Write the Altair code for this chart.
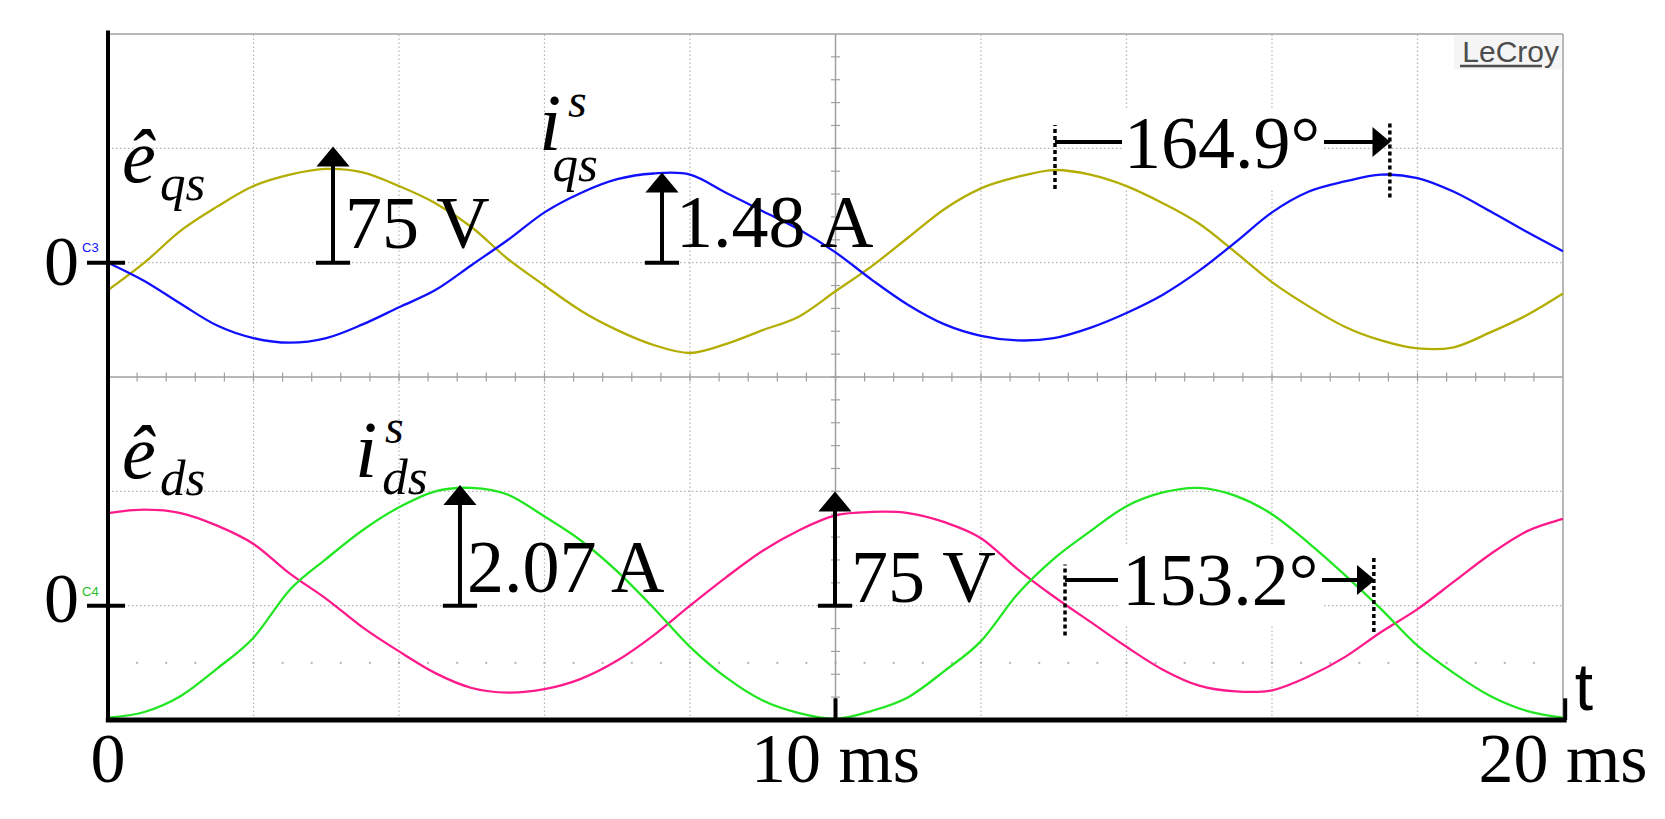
import altair as alt
import pandas as pd

# ---------------- data (screen divisions relative to each channel's zero) ----
T_MS = [0.0, 0.5, 1.0, 1.5, 2.0, 2.5, 3.0, 3.5, 4.0, 4.5, 5.0, 5.5, 6.0, 6.5,
        7.0, 7.5, 8.0, 8.5, 9.0, 9.5, 10.0, 10.5, 11.0, 11.5, 12.0, 12.5,
        13.0, 13.5, 14.0, 14.5, 15.0, 15.5, 16.0, 16.5, 17.0, 17.5, 18.0,
        18.5, 19.0, 19.5, 20.0]

E_QS = [-0.24, 0.00, 0.28, 0.49, 0.67, 0.77, 0.82, 0.79, 0.67, 0.52, 0.31,
        0.03, -0.20, -0.42, -0.59, -0.72, -0.79, -0.71, -0.59, -0.47, -0.25,
        -0.03, 0.22, 0.47, 0.65, 0.75, 0.81, 0.77, 0.67, 0.52, 0.34, 0.09,
        -0.17, -0.38, -0.56, -0.68, -0.75, -0.74, -0.61, -0.46, -0.27]

I_QS = [0.00, -0.16, -0.36, -0.55, -0.66, -0.70, -0.66, -0.54, -0.39, -0.24,
        -0.02, 0.20, 0.44, 0.61, 0.73, 0.78, 0.77, 0.61, 0.45, 0.29, 0.09,
        -0.15, -0.37, -0.54, -0.64, -0.68, -0.66, -0.57, -0.44, -0.28, -0.07,
        0.18, 0.44, 0.62, 0.71, 0.77, 0.74, 0.62, 0.45, 0.27, 0.10]

E_DS = [0.81, 0.84, 0.81, 0.70, 0.54, 0.28, 0.06, -0.19, -0.40, -0.59, -0.72,
        -0.76, -0.73, -0.64, -0.48, -0.26, 0.00, 0.25, 0.48, 0.66, 0.79, 0.82,
        0.81, 0.73, 0.59, 0.32, 0.08, -0.14, -0.36, -0.56, -0.70, -0.75,
        -0.74, -0.62, -0.45, -0.23, -0.03, 0.21, 0.45, 0.65, 0.76]

I_DS = [-0.98, -0.93, -0.79, -0.55, -0.28, 0.14, 0.41, 0.66, 0.86, 1.00, 1.03,
        0.97, 0.78, 0.57, 0.30, -0.02, -0.36, -0.63, -0.83, -0.94, -0.99,
        -0.92, -0.80, -0.57, -0.31, 0.10, 0.41, 0.65, 0.87, 0.99, 1.03, 0.96,
        0.80, 0.55, 0.27, -0.03, -0.35, -0.59, -0.79, -0.92, -0.98]

TRACE_NAMES = ["e_qs", "i_qs", "e_ds", "i_ds"]
TRACE_COLORS = ["#b3ad00", "#1010ff", "#ff1a8c", "#22e622"]
TRACE_ZERO = [4, 4, 1, 1]          # channel zero level (division index)

X_LABELS = ["0", "10 ms", "20 ms"]
X_LABEL_T = [0, 10, 20]

ARROW_LABELS = ["75 V", "1.48 A", "2.07 A", "75 V"]
PHASE_LABELS = ["164.9°", "153.2°"]

# ---------------- table building ----------------
rows = []
for name, zero, vals in zip(TRACE_NAMES, TRACE_ZERO, [E_QS, I_QS, E_DS, I_DS]):
    for t, v in zip(T_MS, vals):
        rows.append({"t": t, "v": v + zero, "trace": name})
traces = pd.DataFrame(rows)

xs = alt.Scale(domain=[0, 20], nice=False, zero=False)
ys = alt.Scale(domain=[0, 6], nice=False, zero=False)


def X(f="t"):
    return alt.X(f"{f}:Q", scale=xs, axis=None)


def Y(f="v"):
    return alt.Y(f"{f}:Q", scale=ys, axis=None)


def segs(rows_, color, width, dash=None, opacity=1.0):
    df = pd.DataFrame(rows_, columns=["t", "t2", "v", "v2"])
    kw = dict(color=color, strokeWidth=width, opacity=opacity)
    if dash:
        kw["strokeDash"] = dash
    return alt.Chart(df).mark_rule(**kw).encode(
        x=X("t"), x2=alt.X2("t2"), y=Y("v"), y2=alt.Y2("v2"))


def texts(rows_, size, font, style="normal", color="black", align="left",
          baseline="alphabetic", weight="normal"):
    df = pd.DataFrame(rows_, columns=["t", "v", "label"])
    return alt.Chart(df).mark_text(
        fontSize=size, font=font, fontStyle=style, color=color, align=align,
        baseline=baseline, fontWeight=weight).encode(
        x=X("t"), y=Y("v"), text="label:N")


def ticks(ts, vs, orient, size, thick, color):
    df = pd.DataFrame({"t": ts, "v": vs})
    return alt.Chart(df).mark_tick(orient=orient, size=size, thickness=thick,
                                   color=color, opacity=1).encode(x=X(), y=Y())


def heads(ts, vs, path, size):
    df = pd.DataFrame({"t": ts, "v": vs})
    return alt.Chart(df).mark_point(shape=path, size=size, filled=True,
                                    color="black", opacity=1,
                                    strokeWidth=0).encode(x=X(), y=Y())


GRID = "#b4b4b4"
SOLID = "#a0a0a0"
SERIF = "Liberation Serif"
SANS = "Liberation Sans"

layers = []

# dotted graticule
layers.append(segs([[t, t, 0, 6] for t in [2, 4, 6, 8, 12, 14, 16, 18]],
                   GRID, 1.2, dash=[1.5, 2.5]))
layers.append(segs([[0, 20, v, v] for v in [1, 2, 4, 5]], GRID, 1.2,
                   dash=[1.5, 2.5]))
layers.append(ticks([0.4 * i for i in range(1, 50)], [0.5] * 49, "vertical",
                    2, 2, GRID))

# white text backgrounds of phase labels
bx = pd.DataFrame({"t": [13.938, 13.91], "t2": [16.701, 16.687],
                   "v": [4.636, 0.831], "v2": [5.335, 1.531]})
layers.append(alt.Chart(bx).mark_rect(color="white").encode(
    x=X("t"), x2=alt.X2("t2"), y=Y("v"), y2=alt.Y2("v2")))

# LeCroy box
lb = pd.DataFrame({"t": [18.5], "t2": [19.98], "v": [5.69], "v2": [5.99]})
layers.append(alt.Chart(lb).mark_rect(color="#f5f5f5").encode(
    x=X("t"), x2=alt.X2("t2"), y=Y("v"), y2=alt.Y2("v2")))

# solid gray lines: divider, center, border
layers.append(segs([[0, 20, 3, 3], [10, 10, 0, 6], [0, 20, 6, 6],
                    [20, 20, 0, 6]], SOLID, 1.5))
layers.append(ticks([0.4 * i for i in range(1, 50)], [3] * 49, "vertical",
                    9, 1.2, SOLID))
layers.append(ticks([10] * 29, [0.2 * i for i in range(1, 30)], "horizontal",
                    9, 1.2, SOLID))

# traces
layers.append(alt.Chart(traces).mark_line(interpolate="cardinal",
                                          strokeWidth=2.3).encode(
    x=X(), y=Y(),
    color=alt.Color("trace:N", scale=alt.Scale(domain=TRACE_NAMES,
                                               range=TRACE_COLORS),
                    legend=None)))

# black axes
layers.append(segs([[0, 0, 0, 6.03]], "black", 4))
layers.append(segs([[-0.03, 20.05, 0, 0]], "black", 5))
layers.append(segs([[10, 10, 0, 0.19], [20.03, 20.03, 0, 0.19]], "black", 4))
layers.append(segs([[-0.289, 0.234, 4, 4], [-0.289, 0.234, 1, 1]], "black", 4))

# vertical amplitude arrows
VA_T = [3.093, 7.615, 4.838, 9.993]
VA_BASE = [4, 4, 1, 1]
VA_HB = [4.846, 4.618, 1.898, 1.837]
VA_HM = [4.929, 4.701, 1.968, 1.911]
layers.append(segs([[t, t, b, h] for t, b, h in zip(VA_T, VA_BASE, VA_HB)],
                   "black", 4))
layers.append(segs([[t - 0.235, t + 0.235, b, b] for t, b in zip(VA_T, VA_BASE)],
                   "black", 4))
layers.append(heads(VA_T, VA_HM, "M0,-0.6L1,0.6L-1,0.6Z", 1100))

# phase arrows
PH_V = [5.056, 1.224]
layers.append(segs([[13.017, 13.938, PH_V[0], PH_V[0]],
                    [13.155, 13.883, PH_V[1], PH_V[1]],
                    [16.715, 17.41, PH_V[0], PH_V[0]],
                    [16.687, 17.19, PH_V[1], PH_V[1]]], "black", 4))
layers.append(segs([[13.017, 13.017, 4.644, 5.204],
                    [17.62, 17.62, 4.57, 5.23],
                    [13.155, 13.155, 0.74, 1.36],
                    [17.40, 17.40, 0.77, 1.43]], "black", 3.5, dash=[4, 3]))
layers.append(heads([17.505, 17.292], PH_V, "M0.6,0L-0.6,-1L-0.6,1Z", 900))

# texts
layers.append(texts([[t, -0.542, s] for t, s in zip(X_LABEL_T, X_LABELS)],
                    70, SERIF, align="center"))
layers.append(texts([[-0.40, 3.805, "0"], [-0.40, 0.857, "0"]], 70, SERIF,
                    align="right"))
layers.append(texts([[20.16, 0.087, "t"]], 66, SANS))
layers.append(texts([[3.258, 4.128, ARROW_LABELS[0]],
                     [7.808, 4.137, ARROW_LABELS[1]],
                     [4.935, 1.12, ARROW_LABELS[2]],
                     [10.213, 1.032, ARROW_LABELS[3]],
                     [13.966, 4.828, PHASE_LABELS[0]],
                     [13.94, 1.006, PHASE_LABELS[1]]], 74, SERIF))
layers.append(texts([[0.192, 4.706, "ê"], [0.192, 2.117, "ê"]], 76, SERIF,
                    style="italic"))
layers.append(texts([[5.924, 4.985, "i"], [3.395, 2.125, "i"]], 80, SERIF,
                    style="italic"))
layers.append(texts([[0.715, 4.548, "qs"], [0.715, 1.968, "ds"],
                     [6.11, 4.714, "qs"], [3.77, 1.977, "ds"]], 51, SERIF,
                    style="italic"))
layers.append(texts([[6.323, 5.274, "s"], [3.808, 2.423, "s"]], 48, SERIF,
                    style="italic"))
layers.append(texts([[-0.357, 4.093, "C3"]], 13, SANS, color="#1010ff"))
layers.append(texts([[-0.357, 1.085, "C4"]], 13, SANS, color="#22c022"))
layers.append(texts([[19.945, 5.755, "LeCroy"]], 30, SANS, color="#4d4d4d",
                    align="right"))
layers.append(segs([[18.584, 19.711, 5.72, 5.72]], "#4d4d4d", 2.5))

chart = alt.layer(*layers).properties(
    width=1455, height=686,
    padding={"left": 100, "top": 26, "right": 90, "bottom": 80},
    autosize=alt.AutoSizeParams(type="none"),
    background="white",
).configure_view(stroke=None)

chart.save("out.html", embed_options={"renderer": "svg", "actions": False})
